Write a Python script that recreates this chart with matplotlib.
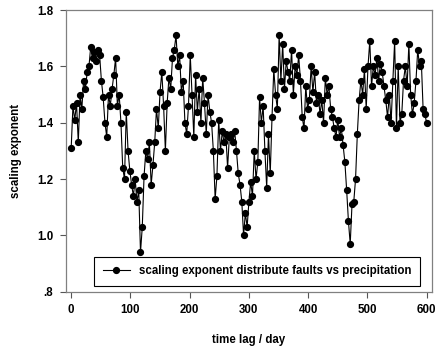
#仿一张折线散点图：scaling exponent vs time lag
import matplotlib
matplotlib.use("Agg")
import matplotlib.pyplot as plt
import numpy as np
from matplotlib.ticker import FixedLocator, FuncFormatter

plt.rcParams["font.family"] = ["Liberation Sans", "DejaVu Sans"]
plt.rcParams["font.weight"] = "bold"

#准备数据：每3天一个点
days = np.arange(0, 601, 3)
exponent = [
    1.31, 1.46, 1.41, 1.47, 1.33, 1.50, 1.45, 1.55, 1.52, 1.58,
    1.60, 1.67, 1.63, 1.65, 1.62, 1.66, 1.64, 1.55, 1.49, 1.40,
    1.35, 1.50, 1.46, 1.52, 1.57, 1.63, 1.46, 1.50, 1.40, 1.24,
    1.20, 1.44, 1.30, 1.23, 1.18, 1.14, 1.20, 1.12, 1.16, 0.94,
    1.03, 1.21, 1.30, 1.27, 1.33, 1.18, 1.25, 1.33, 1.45, 1.38,
    1.51, 1.58, 1.46, 1.30, 1.47, 1.56, 1.52, 1.63, 1.66, 1.71,
    1.60, 1.64, 1.51, 1.55, 1.40, 1.36, 1.46, 1.64, 1.50, 1.35,
    1.57, 1.44, 1.52, 1.40, 1.56, 1.47, 1.36, 1.50, 1.44, 1.40,
    1.30, 1.13, 1.21, 1.41, 1.30, 1.37, 1.33, 1.36, 1.24, 1.35,
    1.36, 1.33, 1.37, 1.30, 1.22, 1.18, 1.12, 1.00, 1.08, 1.03,
    1.12, 1.19, 1.14, 1.30, 1.20, 1.26, 1.49, 1.40, 1.46, 1.30,
    1.17, 1.36, 1.22, 1.42, 1.59, 1.50, 1.45, 1.71, 1.55, 1.68,
    1.52, 1.62, 1.58, 1.55, 1.66, 1.50, 1.60, 1.57, 1.64, 1.55,
    1.42, 1.38, 1.53, 1.45, 1.48, 1.60, 1.51, 1.58, 1.47, 1.50,
    1.43, 1.48, 1.40, 1.56, 1.50, 1.53, 1.45, 1.42, 1.38, 1.35,
    1.41, 1.35, 1.38, 1.32, 1.26, 1.16, 1.05, 0.97, 1.11, 1.12,
    1.20, 1.36, 1.48, 1.55, 1.50, 1.59, 1.45, 1.60, 1.69, 1.53,
    1.60, 1.57, 1.63, 1.55, 1.61, 1.58, 1.53, 1.48, 1.42, 1.50,
    1.40, 1.55, 1.69, 1.38, 1.60, 1.40, 1.43, 1.55, 1.60, 1.53,
    1.68, 1.50, 1.43, 1.47, 1.55, 1.66, 1.60, 1.62, 1.45, 1.43,
    1.40,
]
xTicks = [0, 100, 200, 300, 400, 500, 600]
yTicks = [0.8, 1.0, 1.2, 1.4, 1.6, 1.8]
legendLabel = "scaling exponent distribute faults vs precipitation"

fig = plt.figure(figsize=(4.39, 3.49), dpi=100)
ax = fig.add_axes([0.150, 0.164, 0.834, 0.807])

#画图
ax.plot(days, exponent, color="black", lw=0.8, marker="o", markersize=4.2,
        markerfacecolor="black", markeredgecolor="black", label=legendLabel)

ax.set_xlim(-9, 609)
ax.set_ylim(0.8, 1.8)
ax.xaxis.set_major_locator(FixedLocator(xTicks))
ax.yaxis.set_major_locator(FixedLocator(yTicks))
#".8" 不要前导0
ax.yaxis.set_major_formatter(FuncFormatter(lambda v, p: ("%.1f" % v).lstrip("0")))

ax.tick_params(direction="out", length=4, width=0.8, color="#555555",
               labelsize=8.3, pad=5, top=False, right=False)
for s in ax.spines.values():
    s.set_color("#808080")
    s.set_linewidth(0.9)

ax.set_xlabel("time lag / day", fontsize=8.3, fontweight="bold", labelpad=13)
ax.set_ylabel("scaling exponent", fontsize=8.3, fontweight="bold", labelpad=11)

leg = ax.legend(loc="lower right", bbox_to_anchor=(0.967, 0.02), fancybox=False,
                framealpha=1, edgecolor="black", fontsize=8.3, handlelength=2.3,
                borderpad=0.75, borderaxespad=0)
leg.get_frame().set_linewidth(0.8)

fig.savefig("out.png", dpi=100)
